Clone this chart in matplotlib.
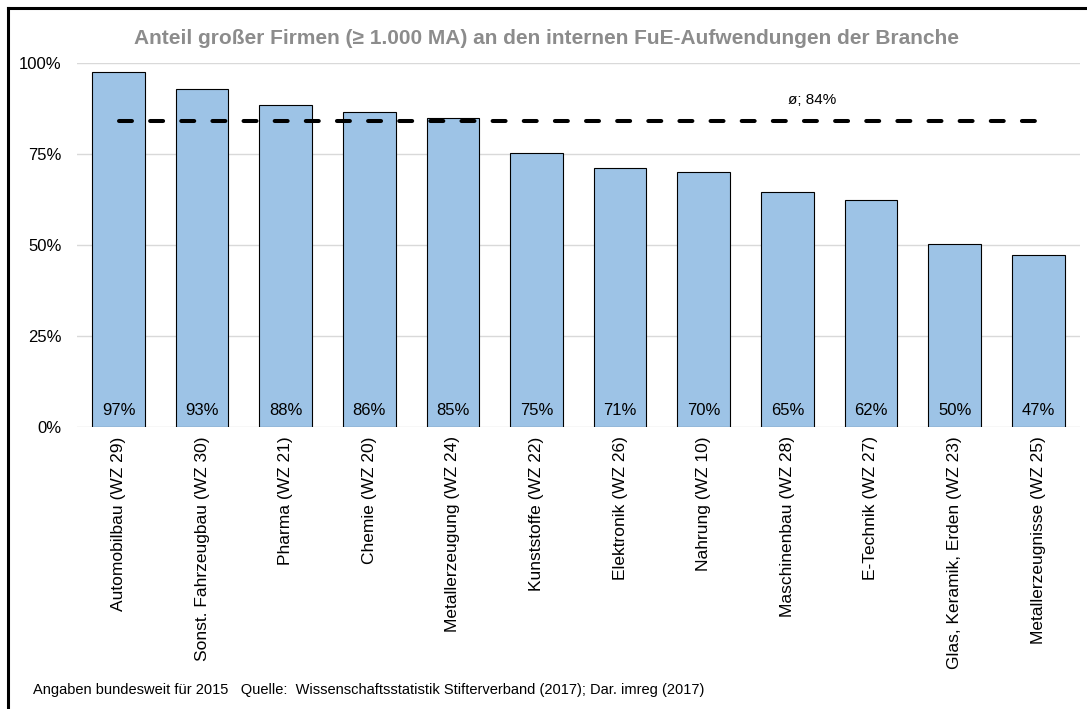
import matplotlib
matplotlib.use("Agg")
import matplotlib.pyplot as plt
from matplotlib.ticker import FuncFormatter, FixedLocator

plt.rcParams['font.family'] = ['Liberation Sans', 'DejaVu Sans']

categories = ["Automobilbau (WZ 29)", "Sonst. Fahrzeugbau (WZ 30)", "Pharma (WZ 21)",
              "Chemie (WZ 20)", "Metallerzeugung (WZ 24)", "Kunststoffe (WZ 22)",
              "Elektronik (WZ 26)", "Nahrung (WZ 10)", "Maschinenbau (WZ 28)",
              "E-Technik (WZ 27)", "Glas, Keramik, Erden (WZ 23)", "Metallerzeugnisse (WZ 25)"]
values = [0.974, 0.928, 0.884, 0.865, 0.848, 0.753, 0.711, 0.700, 0.646, 0.623, 0.502, 0.472]
average = 0.84
yticks = [0, 0.25, 0.5, 0.75, 1.0]
title = "Anteil großer Firmen (≥ 1.000 MA) an den internen FuE-Aufwendungen der Branche"
footer = "Angaben bundesweit für 2015   Quelle:  Wissenschaftsstatistik Stifterverband (2017); Dar. imreg (2017)"

W, H = 1087, 709
fig = plt.figure(figsize=(W / 100, H / 100), dpi=100)
ax = fig.add_axes([76.7 / W, 1 - 426.7 / H, (1080 - 76.7) / W, (426.7 - 62.7) / H])

x = list(range(len(categories)))
ax.bar(x, values, width=0.63, color="#9DC3E6", edgecolor="black", linewidth=0.8, zorder=3)

for xi, v in zip(x, values):
    ax.text(xi, 0.045, f"{round(v * 100):.0f}%", ha="center", va="center", fontsize=12, zorder=4)

ax.plot([x[0], x[-1]], [average, average], color="black", linewidth=2.9,
        dashes=(3.22, 4.51), dash_capstyle="round", zorder=5)
ax.text(8.3, average + 0.057, f"ø; {round(average * 100)}%", ha="center", va="center", fontsize=11)

ax.set_xlim(-0.5, len(categories) - 0.5)
ax.set_ylim(0, 1)
ax.yaxis.set_major_locator(FixedLocator(yticks))
ax.yaxis.set_major_formatter(FuncFormatter(lambda v, p: f"{v * 100:.0f}%"))
ax.grid(axis="y", color="#D9D9D9", linewidth=1.0, zorder=0)
for s in ax.spines.values():
    s.set_visible(False)
ax.tick_params(axis="y", length=0, pad=11, labelsize=12)
ax.tick_params(axis="x", length=0, pad=7, labelsize=12.5)
ax.set_xticks(x)
ax.set_xticklabels(categories, rotation=90, va="top", ha="center")

fig.text(546 / W, 1 - 38 / H, title, ha="center", va="center", fontsize=15,
         fontweight="bold", color="#8C8C8C")
fig.text(33 / W, 1 - 690 / H, footer, ha="left", va="center", fontsize=10.5)

# outer frame (left and top visible)
fig.add_artist(plt.Line2D([8 / W, 8 / W], [0, 1 - 8 / H], color="black", linewidth=2.2,
                          transform=fig.transFigure))
fig.add_artist(plt.Line2D([8 / W, 1], [1 - 8 / H, 1 - 8 / H], color="black", linewidth=2.2,
                          transform=fig.transFigure))

fig.savefig("out.png", dpi=100)
